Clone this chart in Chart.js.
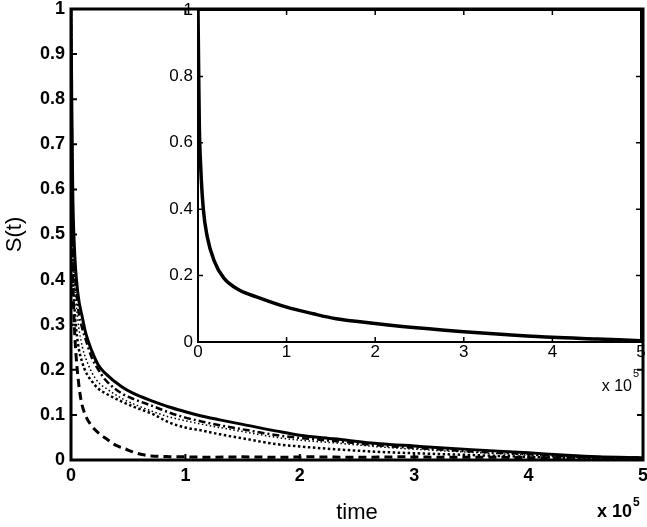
<!DOCTYPE html>
<html>
<head>
<meta charset="utf-8">
<script src="https://cdn.jsdelivr.net/npm/chart.js@4.4.1/dist/chart.umd.min.js"></script>
<style>
  html, body { margin: 0; padding: 0; background: #fff; }
  #wrap { position: relative; width: 647px; height: 527px; overflow: hidden; }
  #main { position: absolute; left: 0; top: 0; }
  #inset { position: absolute; left: 150px; top: 0; }
</style>
</head>
<body>
<div id="wrap">
  <canvas id="main" width="647" height="527"></canvas>
  <canvas id="inset" width="497" height="400"></canvas>
</div>
<script>
// main panel, time samples shared by the four slow curves
const mainTime = [0, 500, 1500, 3000, 6000, 10000, 13000, 18000, 24000, 30000, 44000, 55000, 73000, 85000,
  100000, 115000, 130000, 150000, 180000, 200000, 230000, 270000, 300000, 350000, 400000, 430000, 460000, 500000];
const solidS = [1.0, 0.85, 0.6, 0.47, 0.37, 0.315, 0.28, 0.243, 0.21, 0.192, 0.163, 0.147, 0.129, 0.118,
  0.107, 0.097, 0.089, 0.079, 0.064, 0.055, 0.047, 0.036, 0.031, 0.023, 0.016, 0.011, 0.007, 0.005];
const dashDotS = [1.0, 0.8, 0.57, 0.44, 0.34, 0.29, 0.266, 0.228, 0.2, 0.178, 0.148, 0.135, 0.118, 0.106,
  0.094, 0.085, 0.077, 0.068, 0.055, 0.049, 0.042, 0.032, 0.027, 0.019, 0.013, 0.009, 0.006, 0.004];
const fineDotS = [0.95, 0.7, 0.5, 0.4, 0.31, 0.25, 0.225, 0.195, 0.172, 0.16, 0.137, 0.124, 0.106, 0.096,
  0.087, 0.079, 0.072, 0.063, 0.05, 0.044, 0.038, 0.029, 0.024, 0.017, 0.011, 0.008, 0.005, 0.003];
const coarseDotS = [0.9, 0.6, 0.43, 0.34, 0.26, 0.215, 0.195, 0.175, 0.158, 0.148, 0.13, 0.118, 0.1, 0.084,
  0.072, 0.065, 0.057, 0.048, 0.035, 0.03, 0.024, 0.018, 0.015, 0.011, 0.007, 0.005, 0.003, 0.002];

// fast-decaying dashed curve
const dashTime = [0, 500, 1000, 2000, 3700, 6700, 9000, 12500, 18000, 25000, 32000, 39000, 47000, 54000, 62000,
  70000, 80000, 90000, 100000, 120000, 150000, 180000, 210000, 250000, 290000, 330000, 370000, 410000, 450000, 500000];
const dashS = [0.9, 0.6, 0.48, 0.36, 0.26, 0.17, 0.13, 0.1, 0.076, 0.058, 0.045, 0.033, 0.025, 0.018, 0.012,
  0.009, 0.008, 0.007, 0.007, 0.006, 0.007, 0.006, 0.007, 0.006, 0.007, 0.006, 0.006, 0.005, 0.006, 0.005];

// inset: collapsed curve
const insetTime = [0, 800, 1500, 3000, 6000, 10500, 18000, 29000, 47000, 66000, 100000, 130000, 156000,
  200000, 250000, 300000, 350000, 400000, 450000, 500000];
const insetS = [1.0, 0.8, 0.65, 0.53, 0.4, 0.316, 0.246, 0.193, 0.156, 0.136, 0.105, 0.085, 0.07,
  0.056, 0.042, 0.031, 0.022, 0.014, 0.009, 0.004];

const xTicks = [0, 1, 2, 3, 4, 5];
const mainYStep = 0.1;
const insetYStep = 0.2;
const expText = 'x 10';
const expPower = '5';

const FONT = '"Liberation Sans", Arial, Helvetica, sans-serif';

function pts(xs, ys) {
  return xs.map((t, i) => ({ x: t, y: ys[i] }));
}

// MATLAB style box: white area, inward ticks on all four sides, exponent label
const matlabBox = {
  id: 'matlabBox',
  beforeDraw(chart) {
    const { ctx, chartArea: a } = chart;
    ctx.save();
    ctx.fillStyle = '#fff';
    ctx.fillRect(a.left, a.top, a.right - a.left, a.bottom - a.top);
    ctx.restore();
  },
  afterDraw(chart, args, opts) {
    const { ctx, chartArea: a, scales: { x, y } } = chart;
    ctx.save();
    ctx.strokeStyle = '#000';
    ctx.lineWidth = opts.tickWidth;
    ctx.beginPath();
    x.ticks.forEach(t => {
      const px = x.getPixelForValue(t.value);
      ctx.moveTo(px, a.bottom); ctx.lineTo(px, a.bottom - opts.tick);
      ctx.moveTo(px, a.top); ctx.lineTo(px, a.top + opts.tick);
    });
    y.ticks.forEach(t => {
      const py = y.getPixelForValue(t.value);
      ctx.moveTo(a.left, py); ctx.lineTo(a.left + opts.tick, py);
      ctx.moveTo(a.right, py); ctx.lineTo(a.right - opts.tick, py);
    });
    ctx.stroke();
    ctx.lineWidth = opts.box;
    ctx.strokeRect(a.left, a.top, a.right - a.left, a.bottom - a.top);

    ctx.fillStyle = '#000';
    ctx.textBaseline = 'alphabetic';
    ctx.textAlign = 'right';
    ctx.font = opts.expFont;
    ctx.fillText(expText, opts.expX, opts.expY);
    ctx.textAlign = 'left';
    ctx.font = opts.supFont;
    ctx.fillText(expPower, opts.expX + 1, opts.supY);
    ctx.restore();
  }
};

const xCallback = v => String(v / 100000);
const yCallback = v => (v === 0 || v === 1) ? String(v) : v.toFixed(1);

new Chart(document.getElementById('main'), {
  type: 'line',
  data: {
    datasets: [
      { data: pts(mainTime, coarseDotS), borderColor: '#000', borderWidth: 2.5, borderDash: [2.5, 2.5] },
      { data: pts(mainTime, fineDotS), borderColor: '#000', borderWidth: 1.5, borderDash: [1.5, 2.5] },
      { data: pts(mainTime, dashDotS), borderColor: '#000', borderWidth: 2.5, borderDash: [7, 3, 2, 3] },
      { data: pts(dashTime, dashS), borderColor: '#000', borderWidth: 3, borderDash: [8, 5] },
      { data: pts(mainTime, solidS), borderColor: '#000', borderWidth: 3 }
    ]
  },
  options: {
    responsive: false,
    animation: false,
    layout: { padding: { left: 0, right: 4, top: 9, bottom: 0 } },
    elements: { point: { radius: 0 }, line: { cubicInterpolationMode: 'monotone' } },
    plugins: {
      legend: { display: false },
      tooltip: { enabled: false },
      matlabBox: {
        tick: 6, tickWidth: 2, box: 3,
        expFont: 'bold 18px ' + FONT, supFont: 'bold 12px ' + FONT,
        expX: 632, expY: 517, supY: 506
      }
    },
    scales: {
      x: {
        type: 'linear', min: 0, max: 500000,
        afterBuildTicks: s => { s.ticks = xTicks.map(v => ({ value: v * 100000 })); },
        afterFit: s => { s.height = 67; s.paddingLeft = 0; s.paddingRight = 0; },
        grid: { display: false, drawTicks: false }, border: { display: false },
        ticks: { color: '#000', padding: 7, maxRotation: 0, callback: xCallback,
          font: { family: FONT, size: 18, weight: 'bold', lineHeight: 1 } },
        title: { display: true, text: 'time', color: '#000', padding: { top: 0, bottom: 1 },
          font: { family: FONT, size: 22 } }
      },
      y: {
        min: 0, max: 1,
        ticks: { stepSize: mainYStep, color: '#000', padding: 6, callback: yCallback,
          font: { family: FONT, size: 18, weight: 'bold', lineHeight: 1 } },
        afterFit: s => { s.width = 71; s.paddingTop = 0; s.paddingBottom = 0; },
        grid: { display: false, drawTicks: false }, border: { display: false },
        title: { display: true, text: 'S(t)', color: '#000', padding: { top: 2, bottom: 0 },
          font: { family: FONT, size: 22 } }
      }
    }
  },
  plugins: [matlabBox]
});

new Chart(document.getElementById('inset'), {
  type: 'line',
  data: {
    datasets: [
      { data: pts(insetTime, insetS), borderColor: '#000', borderWidth: 3.5 }
    ]
  },
  options: {
    responsive: false,
    animation: false,
    layout: { padding: { left: 0, right: 6, top: 10, bottom: 0 } },
    elements: { point: { radius: 0 }, line: { cubicInterpolationMode: 'monotone' } },
    plugins: {
      legend: { display: false },
      tooltip: { enabled: false },
      matlabBox: {
        tick: 5, tickWidth: 1.5, box: 2,
        expFont: '16px ' + FONT, supFont: '11px ' + FONT,
        expX: 482, expY: 391, supY: 377
      }
    },
    scales: {
      x: {
        type: 'linear', min: 0, max: 500000,
        afterBuildTicks: s => { s.ticks = xTicks.map(v => ({ value: v * 100000 })); },
        afterFit: s => { s.height = 58; s.paddingLeft = 0; s.paddingRight = 0; },
        grid: { display: false, drawTicks: false }, border: { display: false },
        ticks: { color: '#000', padding: 2, maxRotation: 0, callback: xCallback,
          font: { family: FONT, size: 17, lineHeight: 1 } }
      },
      y: {
        min: 0, max: 1,
        ticks: { stepSize: insetYStep, color: '#000', padding: 5, callback: yCallback,
          font: { family: FONT, size: 17, lineHeight: 1 } },
        afterFit: s => { s.width = 48; s.paddingTop = 0; s.paddingBottom = 0; },
        grid: { display: false, drawTicks: false }, border: { display: false }
      }
    }
  },
  plugins: [matlabBox]
});
</script>
</body>
</html>
